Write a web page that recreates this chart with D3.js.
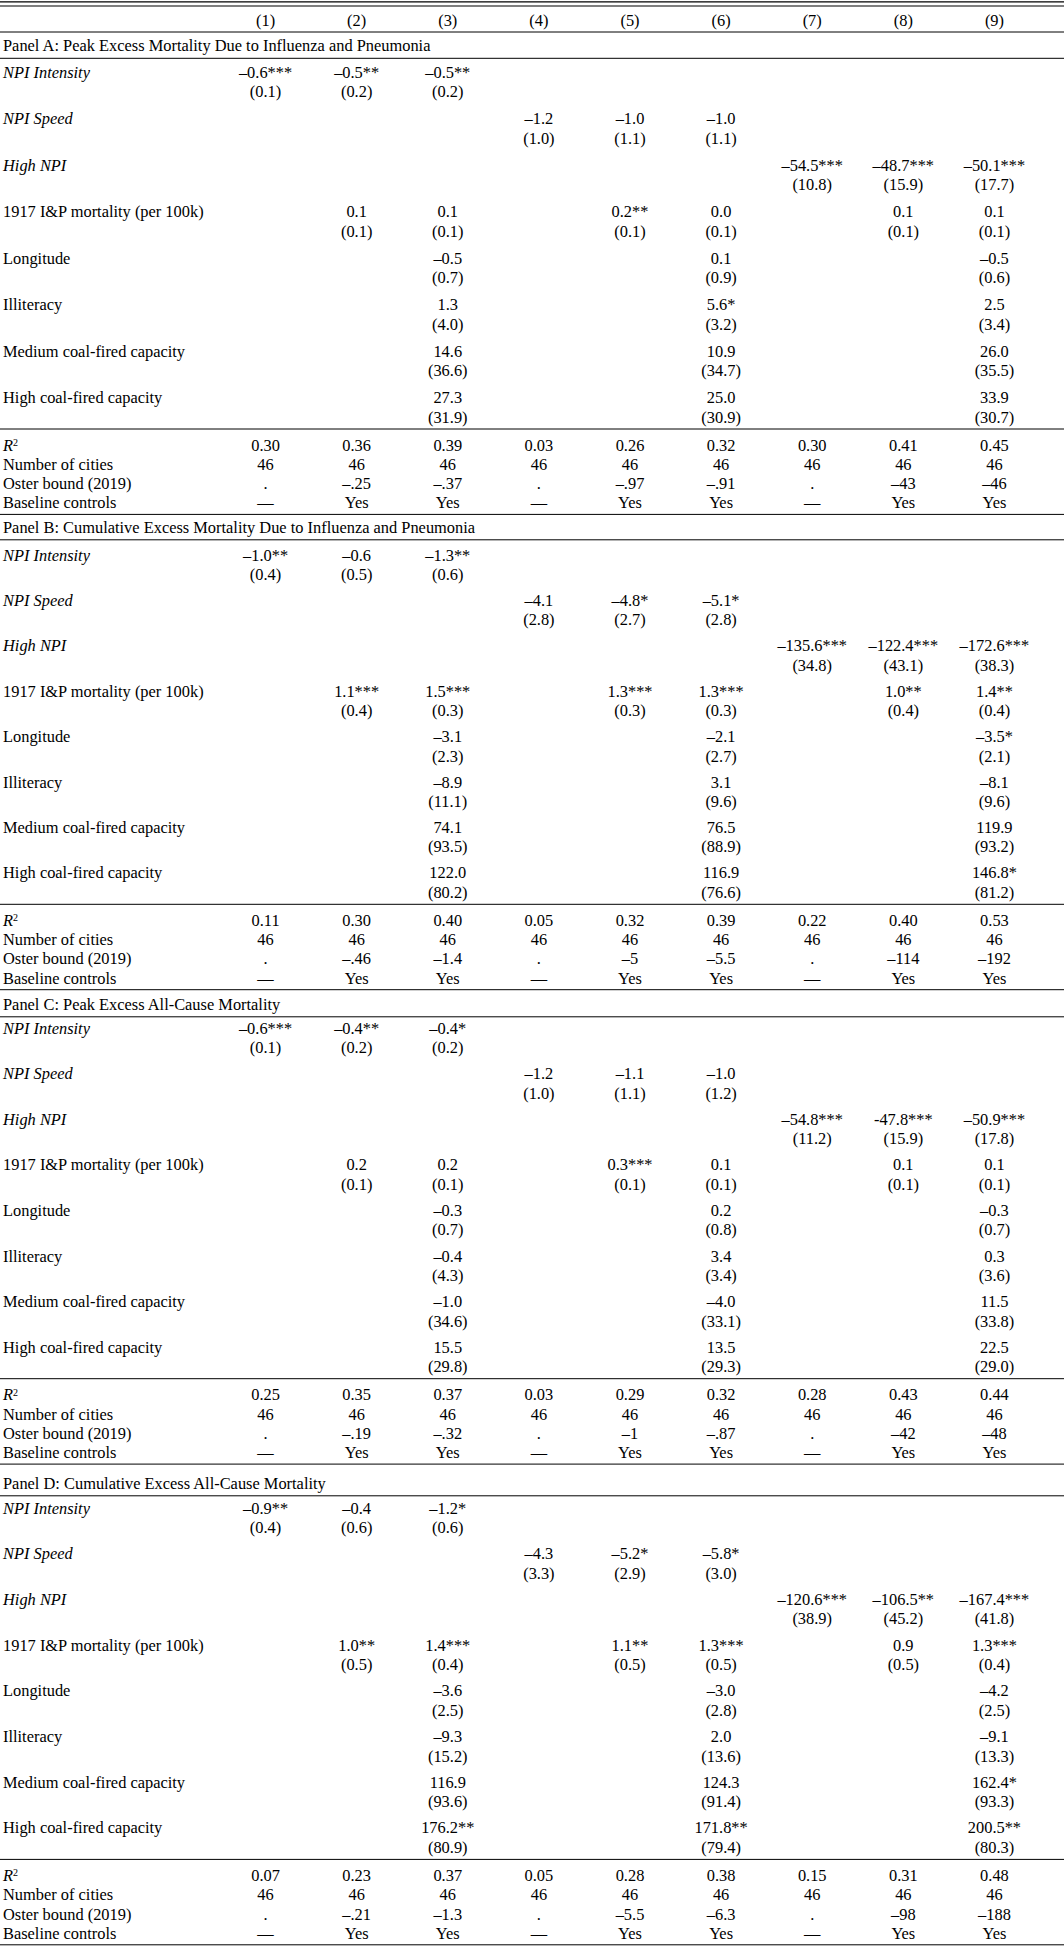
<!DOCTYPE html>
<html><head><meta charset="utf-8">
<script src="https://cdn.jsdelivr.net/npm/d3@7"></script>
<style>
html,body{margin:0;padding:0;background:#fff}
svg{display:block}
text{font-family:"Liberation Serif","Times New Roman",serif;font-size:16.4px;fill:#000}
</style>
</head><body><div id="chart"></div>
<script>
// ---------- DATA ----------
const columns = ["(1)","(2)","(3)","(4)","(5)","(6)","(7)","(8)","(9)"];
const variables = ["NPI Intensity","NPI Speed","High NPI","1917 I&P mortality (per 100k)","Longitude","Illiteracy","Medium coal-fired capacity","High coal-fired capacity"];
const italicVariables = ["NPI Intensity","NPI Speed","High NPI"];
const statLabels = ["R2","Number of cities","Oster bound (2019)","Baseline controls"];
const panelTitles = [
  "Panel A: Peak Excess Mortality Due to Influenza and Pneumonia",
  "Panel B: Cumulative Excess Mortality Due to Influenza and Pneumonia",
  "Panel C: Peak Excess All-Cause Mortality",
  "Panel D: Cumulative Excess All-Cause Mortality"
];

const panelA_coef = [
  ["–0.6***","–0.5**","–0.5**","","","","","",""],
  ["","","","–1.2","–1.0","–1.0","","",""],
  ["","","","","","","–54.5***","–48.7***","–50.1***"],
  ["","0.1","0.1","","0.2**","0.0","","0.1","0.1"],
  ["","","–0.5","","","0.1","","","–0.5"],
  ["","","1.3","","","5.6*","","","2.5"],
  ["","","14.6","","","10.9","","","26.0"],
  ["","","27.3","","","25.0","","","33.9"]
];
const panelA_se = [
  ["(0.1)","(0.2)","(0.2)","","","","","",""],
  ["","","","(1.0)","(1.1)","(1.1)","","",""],
  ["","","","","","","(10.8)","(15.9)","(17.7)"],
  ["","(0.1)","(0.1)","","(0.1)","(0.1)","","(0.1)","(0.1)"],
  ["","","(0.7)","","","(0.9)","","","(0.6)"],
  ["","","(4.0)","","","(3.2)","","","(3.4)"],
  ["","","(36.6)","","","(34.7)","","","(35.5)"],
  ["","","(31.9)","","","(30.9)","","","(30.7)"]
];
const panelA_r2 = ["0.30","0.36","0.39","0.03","0.26","0.32","0.30","0.41","0.45"];
const panelA_oster = [".","–.25","–.37",".","–.97","–.91",".","–43","–46"];

const panelB_coef = [
  ["–1.0**","–0.6","–1.3**","","","","","",""],
  ["","","","–4.1","–4.8*","–5.1*","","",""],
  ["","","","","","","–135.6***","–122.4***","–172.6***"],
  ["","1.1***","1.5***","","1.3***","1.3***","","1.0**","1.4**"],
  ["","","–3.1","","","–2.1","","","–3.5*"],
  ["","","–8.9","","","3.1","","","–8.1"],
  ["","","74.1","","","76.5","","","119.9"],
  ["","","122.0","","","116.9","","","146.8*"]
];
const panelB_se = [
  ["(0.4)","(0.5)","(0.6)","","","","","",""],
  ["","","","(2.8)","(2.7)","(2.8)","","",""],
  ["","","","","","","(34.8)","(43.1)","(38.3)"],
  ["","(0.4)","(0.3)","","(0.3)","(0.3)","","(0.4)","(0.4)"],
  ["","","(2.3)","","","(2.7)","","","(2.1)"],
  ["","","(11.1)","","","(9.6)","","","(9.6)"],
  ["","","(93.5)","","","(88.9)","","","(93.2)"],
  ["","","(80.2)","","","(76.6)","","","(81.2)"]
];
const panelB_r2 = ["0.11","0.30","0.40","0.05","0.32","0.39","0.22","0.40","0.53"];
const panelB_oster = [".","–.46","–1.4",".","–5","–5.5",".","–114","–192"];

const panelC_coef = [
  ["–0.6***","–0.4**","–0.4*","","","","","",""],
  ["","","","–1.2","–1.1","–1.0","","",""],
  ["","","","","","","–54.8***","-47.8***","–50.9***"],
  ["","0.2","0.2","","0.3***","0.1","","0.1","0.1"],
  ["","","–0.3","","","0.2","","","–0.3"],
  ["","","–0.4","","","3.4","","","0.3"],
  ["","","–1.0","","","–4.0","","","11.5"],
  ["","","15.5","","","13.5","","","22.5"]
];
const panelC_se = [
  ["(0.1)","(0.2)","(0.2)","","","","","",""],
  ["","","","(1.0)","(1.1)","(1.2)","","",""],
  ["","","","","","","(11.2)","(15.9)","(17.8)"],
  ["","(0.1)","(0.1)","","(0.1)","(0.1)","","(0.1)","(0.1)"],
  ["","","(0.7)","","","(0.8)","","","(0.7)"],
  ["","","(4.3)","","","(3.4)","","","(3.6)"],
  ["","","(34.6)","","","(33.1)","","","(33.8)"],
  ["","","(29.8)","","","(29.3)","","","(29.0)"]
];
const panelC_r2 = ["0.25","0.35","0.37","0.03","0.29","0.32","0.28","0.43","0.44"];
const panelC_oster = [".","–.19","–.32",".","–1","–.87",".","–42","–48"];

const panelD_coef = [
  ["–0.9**","–0.4","–1.2*","","","","","",""],
  ["","","","–4.3","–5.2*","–5.8*","","",""],
  ["","","","","","","–120.6***","–106.5**","–167.4***"],
  ["","1.0**","1.4***","","1.1**","1.3***","","0.9","1.3***"],
  ["","","–3.6","","","–3.0","","","–4.2"],
  ["","","–9.3","","","2.0","","","–9.1"],
  ["","","116.9","","","124.3","","","162.4*"],
  ["","","176.2**","","","171.8**","","","200.5**"]
];
const panelD_se = [
  ["(0.4)","(0.6)","(0.6)","","","","","",""],
  ["","","","(3.3)","(2.9)","(3.0)","","",""],
  ["","","","","","","(38.9)","(45.2)","(41.8)"],
  ["","(0.5)","(0.4)","","(0.5)","(0.5)","","(0.5)","(0.4)"],
  ["","","(2.5)","","","(2.8)","","","(2.5)"],
  ["","","(15.2)","","","(13.6)","","","(13.3)"],
  ["","","(93.6)","","","(91.4)","","","(93.3)"],
  ["","","(80.9)","","","(79.4)","","","(80.3)"]
];
const panelD_r2 = ["0.07","0.23","0.37","0.05","0.28","0.38","0.15","0.31","0.48"];
const panelD_oster = [".","–.21","–1.3",".","–5.5","–6.3",".","–98","–188"];

const numberOfCities = ["46","46","46","46","46","46","46","46","46"];
const baselineControls = ["—","Yes","Yes","—","Yes","Yes","—","Yes","Yes"];

// ---------- BUILD ----------
const panels = [
  {title: panelTitles[0], coef: panelA_coef, se: panelA_se, r2: panelA_r2, oster: panelA_oster},
  {title: panelTitles[1], coef: panelB_coef, se: panelB_se, r2: panelB_r2, oster: panelB_oster},
  {title: panelTitles[2], coef: panelC_coef, se: panelC_se, r2: panelC_r2, oster: panelC_oster},
  {title: panelTitles[3], coef: panelD_coef, se: panelD_se, r2: panelD_r2, oster: panelD_oster}
];
// vertical layout per panel (title centre, first coefficient row centre, row pitch)
const layout = [
  {title: 45.5, first: 72, pitch: 46.5},
  {title: 527, first: 555, pitch: 45.4},
  {title: 1004, first: 1028, pitch: 45.6},
  {title: 1483, first: 1508, pitch: 45.7}
];

const W = 1064, H = 1950;
const svg = d3.select("#chart").append("svg").attr("width", W).attr("height", H);
svg.append("rect").attr("width", W).attr("height", H).attr("fill", "#fff");

const x = d3.scaleBand().domain(columns).range([220, 1040]).padding(0);
const cx = c => x(c) + x.bandwidth() / 2;
const labelX = 3;
const DY = "0.34em";

function rule(y, w) {
  svg.append("line").attr("x1", 0).attr("x2", W).attr("y1", y).attr("y2", y)
    .attr("stroke", "#000").attr("stroke-width", w || 1);
}

// top double rule and header
rule(1.8, 1.2);
rule(6, 1.2);
svg.append("g").selectAll("text").data(columns).join("text")
  .attr("x", d => cx(d)).attr("y", 20.5).attr("dy", DY)
  .attr("text-anchor", "middle").text(d => d);
rule(32);

function rowCells(g, values, y) {
  g.append("g").selectAll("text").data(values.map((v, i) => ({v, c: columns[i]})).filter(d => d.v !== ""))
    .join("text")
    .attr("x", d => cx(d.c)).attr("y", y).attr("dy", DY)
    .attr("text-anchor", "middle").text(d => d.v);
}

panels.forEach((p, pi) => {
  const L = layout[pi];
  const g = svg.append("g");
  const yRow = d3.scaleLinear().domain([0, variables.length - 1])
    .range([L.first, L.first + L.pitch * (variables.length - 1)]);
  const seOff = 19.5;

  g.append("text").attr("x", labelX).attr("y", L.title).attr("dy", DY).text(p.title);
  rule(L.title + 12.8);

  variables.forEach((v, vi) => {
    g.append("text").attr("x", labelX).attr("y", yRow(vi)).attr("dy", DY)
      .style("font-style", italicVariables.includes(v) ? "italic" : "normal").text(v);
    rowCells(g, p.coef[vi], yRow(vi));
    rowCells(g, p.se[vi], yRow(vi) + seOff);
  });

  const lastSe = yRow(variables.length - 1) + seOff;
  rule(lastSe + 12);
  const statStart = lastSe + 28;
  const yStat = d3.scaleLinear().domain([0, 3]).range([statStart, statStart + 3 * 19.3]);
  const statValues = [p.r2, numberOfCities, p.oster, baselineControls];

  statLabels.forEach((s, si) => {
    const t = g.append("text").attr("x", labelX).attr("y", yStat(si)).attr("dy", DY);
    if (s === "R2") {
      t.append("tspan").style("font-style", "italic").text("R");
      t.append("tspan").attr("dy", "-0.45em").style("font-size", "10px").text("2");
    } else {
      t.text(s);
    }
    rowCells(g, statValues[si], yStat(si));
  });
  rule(yStat(3) + 11.5);
});
</script></body></html>
